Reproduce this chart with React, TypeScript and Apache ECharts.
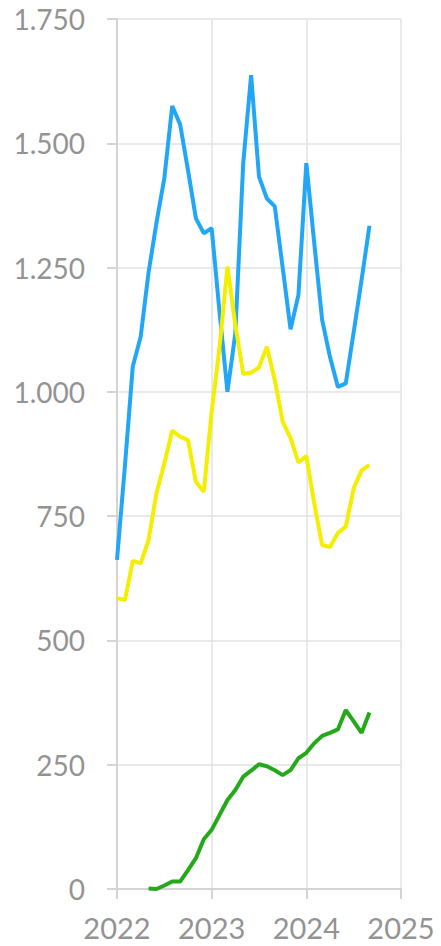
import React, { useEffect, useRef } from "react";
import * as echarts from "echarts";

const months: string[] = [
  "2022-01","2022-02","2022-03","2022-04","2022-05","2022-06","2022-07","2022-08","2022-09","2022-10","2022-11","2022-12",
  "2023-01","2023-02","2023-03","2023-04","2023-05","2023-06","2023-07","2023-08","2023-09","2023-10","2023-11","2023-12",
  "2024-01","2024-02","2024-03","2024-04","2024-05","2024-06","2024-07","2024-08","2024-09",
];

const blueValues: (number | null)[] = [
  662, 850, 1051, 1111, 1240, 1340, 1430, 1575, 1538, 1446, 1349, 1319,
  1329, 1160, 1000, 1118, 1460, 1637, 1433, 1389, 1373, 1250, 1126, 1195,
  1460, 1300, 1145, 1070, 1010, 1017, 1120, 1225, 1334,
];

const yellowValues: (number | null)[] = [
  585, 581, 660, 655, 702, 796, 856, 922, 910, 903, 819, 799,
  960, 1090, 1252, 1135, 1036, 1039, 1049, 1091, 1024, 940, 907, 858,
  871, 776, 692, 688, 716, 729, 806, 842, 853,
];

const greenValues: (number | null)[] = [
  null, null, null, null, 1, 0, 7, 15, 15, 38, 62, 100,
  119, 149, 179, 199, 226, 238, 251, 247, 239, 229, 239, 263,
  274, 293, 308, 314, 321, 360, 337, 314, 355,
];

const xTicks: number[] = [2022, 2023, 2024, 2025];
const yTicks: number[] = [0, 250, 500, 750, 1000, 1250, 1500, 1750];

const toX = (m: string) => {
  const [y, mo] = m.split("-").map(Number);
  return y + (mo - 1) / 12;
};

const pairs = (vals: (number | null)[]) =>
  months.map((m, i) => [toX(m), vals[i]]).filter((p) => p[1] !== null);

const fmtThousands = (v: number) =>
  String(v).replace(/\B(?=(\d{3})+(?!\d))/g, ".");

export default function App() {
  const ref = useRef<HTMLDivElement>(null);
  useEffect(() => {
    if (!ref.current) return;
    const chart = echarts.init(ref.current, null, { renderer: "svg" });
    const labelStyle = {
      color: "#939393",
      fontFamily: "Lato",
      fontWeight: 400,
    };
    chart.setOption({
      animation: false,
      grid: { left: 117, right: 40, top: 19, bottom: 57, containLabel: false },
      xAxis: {
        type: "value",
        min: xTicks[0],
        max: xTicks[xTicks.length - 1],
        interval: 1,
        axisLine: { show: true, lineStyle: { color: "#d4d4d4", width: 2 } },
        axisTick: { show: true, length: 10, lineStyle: { color: "#d4d4d4", width: 2 } },
        splitLine: { show: true, lineStyle: { color: "#e2e2e2", width: 1.5 } },
        axisLabel: {
          ...labelStyle,
          fontSize: 29,
          margin: 24,
          formatter: (v: number) => String(v),
        },
      },
      yAxis: {
        type: "value",
        min: yTicks[0],
        max: yTicks[yTicks.length - 1],
        interval: 250,
        axisLine: { show: true, lineStyle: { color: "#d4d4d4", width: 2 } },
        axisTick: { show: true, length: 10, lineStyle: { color: "#d4d4d4", width: 2 } },
        splitLine: { show: true, lineStyle: { color: "#e2e2e2", width: 1.5 } },
        axisLabel: {
          ...labelStyle,
          fontSize: 28,
          margin: 32,
          formatter: (v: number) => fmtThousands(v),
        },
      },
      series: [
        {
          type: "line",
          data: pairs(blueValues),
          showSymbol: false,
          lineStyle: { color: "#22a7f6", width: 4 },
          itemStyle: { color: "#22a7f6" },
        },
        {
          type: "line",
          data: pairs(yellowValues),
          showSymbol: false,
          lineStyle: { color: "#f4ef00", width: 4 },
          itemStyle: { color: "#f4ef00" },
        },
        {
          type: "line",
          data: pairs(greenValues),
          showSymbol: false,
          lineStyle: { color: "#25a91a", width: 4 },
          itemStyle: { color: "#25a91a" },
        },
      ],
    });
    return () => chart.dispose();
  }, []);
  return (
    <div
      ref={ref}
      style={{ position: "fixed", left: 0, top: 0, width: 441, height: 946, background: "#fff" }}
    />
  );
}
